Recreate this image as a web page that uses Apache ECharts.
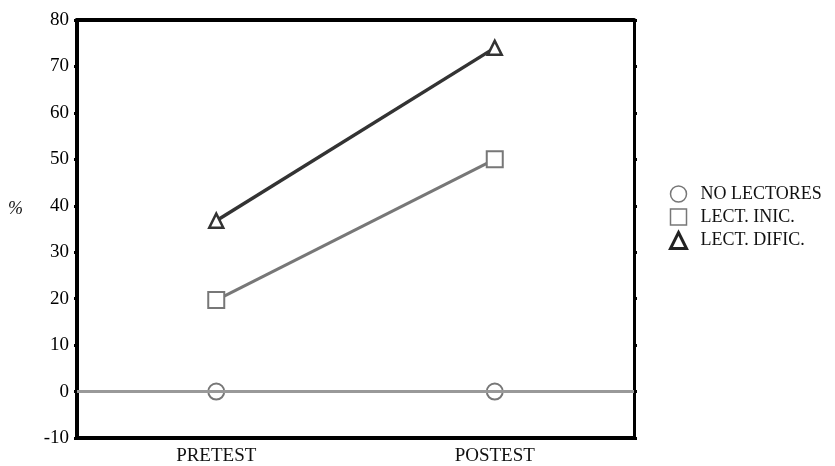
<!DOCTYPE html>
<html><head><meta charset="utf-8">
<script src="https://cdn.jsdelivr.net/npm/echarts@6/dist/echarts.min.js"></script>
<style>html,body{margin:0;padding:0;background:#fff}#c{width:835px;height:466px}</style>
</head><body><div id="c"></div>
<script>
const categories = ['PRETEST', 'POSTEST'];
const noLectores = [0, 0];
const lectInic = [19.7, 50];
const lectDific = [36.8, 74];
const yTicks = [-10, 0, 10, 20, 30, 40, 50, 60, 70, 80];

const font = 'Liberation Serif';
const chart = echarts.init(document.getElementById('c'));
chart.setOption({
  animation: false,
  backgroundColor: '#fff',
  grid: { left: 77, right: 201, top: 20, bottom: 23 },
  legend: {
    orient: 'vertical', left: 664, top: 180, itemGap: 5, itemWidth: 16, itemHeight: 16,
    textStyle: { fontFamily: font, fontSize: 18, color: '#111', padding: [0, 0, 0, 9] },
    data: [
      { name: 'NO LECTORES', icon: 'circle', itemStyle: { color: '#fff', borderColor: '#777', borderWidth: 1.5 } },
      { name: 'LECT. INIC.', icon: 'rect', itemStyle: { color: '#fff', borderColor: '#777', borderWidth: 1.5 } },
      { name: 'LECT. DIFIC.', icon: 'triangle', itemStyle: { color: '#fff', borderColor: '#222', borderWidth: 3 } }
    ]
  },
  graphic: [{ type: 'text', left: 8, top: 200, style: { text: '%', font: 'italic 18px "Liberation Serif"', fill: '#111' } }],
  xAxis: [
    { type: 'category', data: categories, position: 'bottom', boundaryGap: true,
      axisLine: { onZero: false, lineStyle: { color: '#000', width: 4 } }, axisTick: { show: false },
      axisLabel: { fontFamily: font, fontSize: 19, color: '#111', margin: 9 } },
    { type: 'category', data: categories, position: 'top', boundaryGap: true,
      axisLine: { onZero: false, lineStyle: { color: '#000', width: 4 } }, axisTick: { show: false }, axisLabel: { show: false } }
  ],
  yAxis: [
    { type: 'value', min: -10, max: 80, interval: 10, position: 'left',
      axisLine: { show: true, onZero: false, lineStyle: { color: '#000', width: 4 } },
      axisTick: { show: true, length: 3, lineStyle: { color: '#000', width: 3 } },
      splitLine: { show: false },
      axisLabel: { fontFamily: font, fontSize: 19, color: '#000', margin: 8,
        formatter: v => yTicks.includes(v) ? String(v) : '' } },
    { type: 'value', min: -10, max: 80, interval: 10, position: 'right',
      axisLine: { show: true, onZero: false, lineStyle: { color: '#000', width: 3 } },
      axisTick: { show: true, length: 3, lineStyle: { color: '#000', width: 3 } },
      splitLine: { show: false }, axisLabel: { show: false } }
  ],
  series: [
    { name: 'NO LECTORES', type: 'line', data: noLectores, symbol: 'circle', symbolSize: 16,
      itemStyle: { color: '#fff', borderColor: '#777', borderWidth: 2 },
      lineStyle: { color: '#888', width: 3 }, z: 3,
      markLine: { silent: true, symbol: 'none', label: { show: false },
        lineStyle: { color: '#999', width: 3, type: 'solid' }, data: [{ yAxis: 0 }] } },
    { name: 'LECT. INIC.', type: 'line', data: lectInic, symbol: 'rect', symbolSize: 16,
      itemStyle: { color: '#fff', borderColor: '#777', borderWidth: 2 },
      lineStyle: { color: '#777', width: 3 }, z: 4 },
    { name: 'LECT. DIFIC.', type: 'line', data: lectDific, symbol: 'triangle', symbolSize: 14,
      itemStyle: { color: '#fff', borderColor: '#333', borderWidth: 2.5 },
      lineStyle: { color: '#333', width: 3.5 }, z: 5 }
  ]
});
</script></body></html>
